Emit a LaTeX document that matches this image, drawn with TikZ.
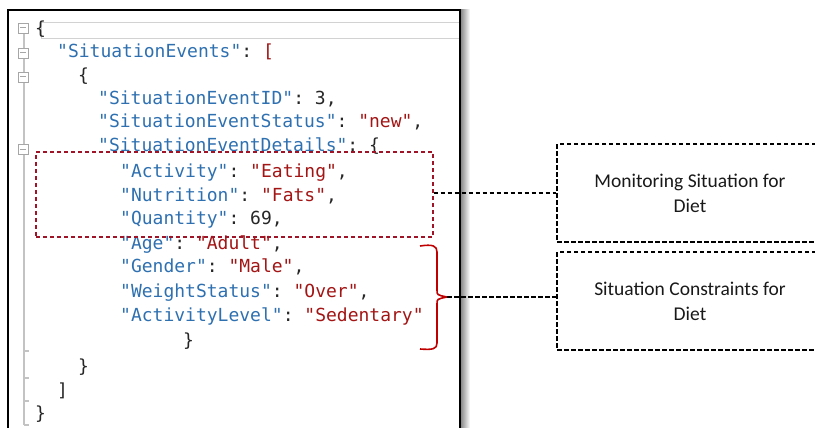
\documentclass[tikz,border=0pt]{standalone}
\usepackage{fontspec}
\setmonofont{DejaVu Sans Mono}
\newfontfamily\calibrifont{Carlito}
\definecolor{jsonkey}{RGB}{46,112,176}
\definecolor{jsonval}{RGB}{163,21,21}
\definecolor{markred}{RGB}{160,20,40}
\definecolor{bracered}{RGB}{192,0,0}
\definecolor{gutter}{RGB}{195,195,195}
\newcommand{\jkey}[1]{\textcolor{jsonkey}{"#1"}}
\newcommand{\jval}[1]{\textcolor{jsonval}{"#1"}}

\begin{document}
\begin{tikzpicture}[x = 1pt, y = -1pt,
    codeline/.style = {anchor = west, inner sep = 0pt, text height = 13pt, text depth = 4pt,
        font = \ttfamily\fontsize{18}{18}\selectfont, text = black!85},
    foldbox/.style = {draw = gray!70, fill = white, minimum size = 10pt, inner sep = 0pt, line width = 0.8pt,
        path picture = {\draw[gray!70, line width = 1pt] ([xshift = 2pt]path picture bounding box.west) -- ([xshift = -2pt]path picture bounding box.east);}},
    blackdash/.style = {draw, dash pattern = on 4.5pt off 2.5pt, line width = 1.4pt},
    notebox/.style = {blackdash, minimum width = 266pt, align = center,
        font = \calibrifont\fontsize{19.5}{25}\selectfont, text = black!90}]
    \useasboundingbox (0,0) rectangle (815,428);
    \clip (0,0) rectangle (815,428);

    % editor panel
    \shade[left color = black!45, right color = white] (461,10) rectangle (470,440);
    \draw[gray!35, line width = 0.6pt] (41,22) rectangle (459,38);
    \draw[gutter, line width = 1.3pt] (24,30) -- (24,425);
    \foreach \y in {351,378,401,425}
        \draw[gutter, line width = 1.3pt] (24,\y) -- (29,\y);
    \node[foldbox] (fold1) at (23,28) {};
    \node[foldbox] (fold2) at (23,53) {};
    \node[foldbox] (fold3) at (23,77) {};
    \node[foldbox] (fold4) at (23,149) {};
    \draw[line width = 2.2pt] (8,10) rectangle (460,445);

    % json text
    \node[codeline] (l1) at (35,30) {\{};
    \node[codeline] (l2) at (57,53) {\jkey{SituationEvents}: \textcolor{jsonval}{[}};
    \node[codeline] (l3) at (78,77) {\{};
    \node[codeline] (l4) at (98,100) {\jkey{SituationEventID}: 3,};
    \node[codeline] (l5) at (98,123) {\jkey{SituationEventStatus}: \jval{new},};
    \node[codeline] (l6) at (98,147) {\jkey{SituationEventDetails}: \{};
    \node[codeline] (l7) at (120,173) {\jkey{Activity}: \jval{Eating},};
    \node[codeline] (l8) at (120,197) {\jkey{Nutrition}: \jval{Fats},};
    \node[codeline] (l9) at (120,220) {\jkey{Quantity}: 69,};
    \node[codeline] (l10) at (120,245) {\jkey{Age}: \jval{Adult},};
    \node[codeline] (l11) at (120,268) {\jkey{Gender}: \jval{Male},};
    \node[codeline] (l12) at (120,293) {\jkey{WeightStatus}: \jval{Over},};
    \node[codeline] (l13) at (120,317) {\jkey{ActivityLevel}: \jval{Sedentary}};
    \node[codeline] (l14) at (183,342) {\}};
    \node[codeline] (l15) at (78,368) {\}};
    \node[codeline] (l16) at (57,392) {]};
    \node[codeline] (l17) at (35,415) {\}};

    % markers
    \node[draw = markred, dash pattern = on 4pt off 3pt, line width = 1.4pt,
        minimum width = 397pt, minimum height = 85pt] (monitorsel) at (234.5,194.5) {};
    \draw[bracered, line width = 1.6pt] (420,246) .. controls (433,244) and (437,246) .. (437,252)
        -- (437,290) .. controls (437,295) .. (447,297) coordinate (tip)
        .. controls (437,299) .. (437,304) -- (437,343)
        .. controls (437,349) and (433,350) .. (420,349);

    % notes
    \node[notebox, minimum height = 98pt] (monitorbox) at (690,193) {Monitoring Situation for\\Diet};
    \node[notebox, minimum height = 98pt] (constraintbox) at (690,301) {Situation Constraints for\\Diet};
    \draw[blackdash] (monitorsel.east |- monitorbox.west) -- (monitorbox.west);
    \draw[blackdash] (tip) -- (tip -| constraintbox.west);
\end{tikzpicture}
\end{document}
